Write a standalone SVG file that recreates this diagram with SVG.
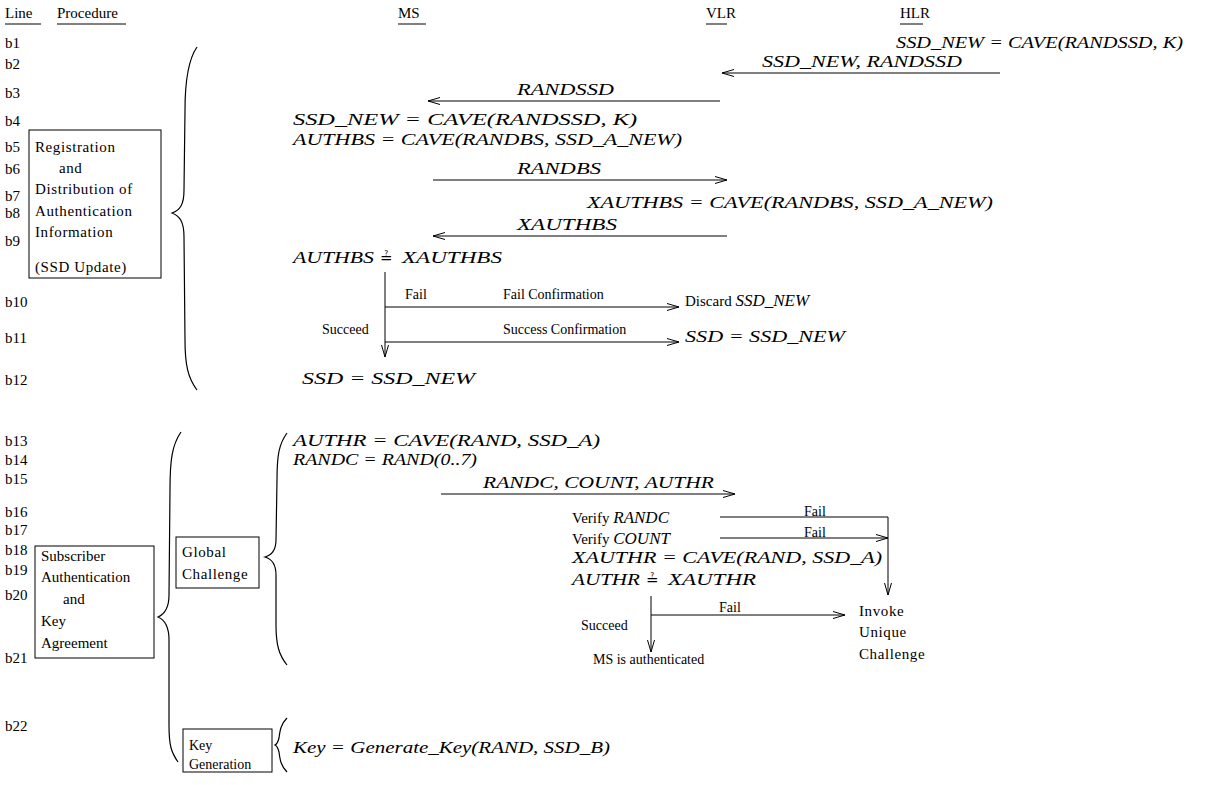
<svg xmlns="http://www.w3.org/2000/svg" width="1220" height="785" viewBox="0 0 1220 785">
<style>
text{font-family:"Liberation Serif","Times New Roman",serif;fill:#000}
.lb{font-size:15px}
.m{font-style:italic;font-size:17px}
.r{font-size:15px}
.t{font-size:14px}
.s{font-size:15px;letter-spacing:0.6px}
.qe{font-family:"DejaVu Sans",sans-serif;font-size:15px}
.ln{stroke:#000;stroke-width:1;fill:none}
.ar{stroke:#000;stroke-width:1;fill:none;marker-end:url(#ah)}
.br{stroke:#000;stroke-width:1.2;fill:none}
.bx{stroke:#000;stroke-width:1;fill:#fff}
</style>
<defs>
<marker id="ah" markerUnits="userSpaceOnUse" markerWidth="14" markerHeight="10" refX="12" refY="5" orient="auto">
<path d="M0,1.5 L12,5 L0,8.5" fill="none" stroke="#000" stroke-width="1"/>
</marker>
</defs>
<rect width="1220" height="785" fill="#fff"/>

<g id="header">
<text class="r" x="5" y="18">Line</text>
<line class="ln" x1="5" y1="24" x2="41" y2="24"/>
<text class="r" x="57" y="18">Procedure</text>
<line class="ln" x1="57" y1="24" x2="126" y2="24"/>
<text class="r" x="398" y="18">MS</text>
<line class="ln" x1="398" y1="24" x2="426" y2="24"/>
<text class="r" x="706" y="18">VLR</text>
<line class="ln" x1="706" y1="24" x2="727" y2="24"/>
<text class="r" x="900" y="18">HLR</text>
<line class="ln" x1="900" y1="24" x2="923" y2="24"/>
</g>

<g id="line-labels" class="lb">
<text class="lb" x="5" y="48">b1</text>
<text class="lb" x="5" y="69">b2</text>
<text class="lb" x="5" y="98">b3</text>
<text class="lb" x="5" y="126">b4</text>
<text class="lb" x="5" y="152">b5</text>
<text class="lb" x="5" y="174">b6</text>
<text class="lb" x="5" y="201">b7</text>
<text class="lb" x="5" y="218">b8</text>
<text class="lb" x="5" y="246">b9</text>
<text class="lb" x="5" y="307">b10</text>
<text class="lb" x="5" y="343">b11</text>
<text class="lb" x="5" y="385">b12</text>
<text class="lb" x="5" y="446">b13</text>
<text class="lb" x="5" y="465">b14</text>
<text class="lb" x="5" y="484">b15</text>
<text class="lb" x="5" y="517">b16</text>
<text class="lb" x="5" y="535">b17</text>
<text class="lb" x="5" y="555">b18</text>
<text class="lb" x="5" y="575">b19</text>
<text class="lb" x="5" y="600">b20</text>
<text class="lb" x="5" y="663">b21</text>
<text class="lb" x="5" y="731">b22</text>
</g>

<g id="box-registration">
<rect class="bx" x="29" y="130" width="132" height="148"/>
<text class="s" x="35" y="152">Registration</text>
<text class="s" x="59" y="173">and</text>
<text class="s" x="35" y="194">Distribution of</text>
<text class="s" x="35" y="216">Authentication</text>
<text class="s" x="35" y="237">Information</text>
<text class="s" x="35" y="272">(SSD Update)</text>
</g>

<g id="box-subscriber">
<rect class="bx" x="35" y="546" width="119" height="112"/>
<text class="r" x="41" y="561">Subscriber</text>
<text class="r" x="41" y="582">Authentication</text>
<text class="r" x="63" y="604">and</text>
<text class="r" x="41" y="626">Key</text>
<text class="r" x="41" y="648">Agreement</text>
</g>

<g id="box-global">
<rect class="bx" x="176" y="537" width="83" height="51"/>
<text class="s" x="182" y="557">Global</text>
<text class="s" x="182" y="579">Challenge</text>
</g>

<g id="box-keygen">
<rect class="bx" x="183" y="729" width="89" height="43"/>
<text class="t" x="189" y="750">Key</text>
<text class="t" x="189" y="769">Generation</text>
</g>

<g id="braces">
<path class="br" d="M197,47 C188,60 185,80 185,110 L184,190 C184,205 180,210 172,213 C180,216 184,222 184,237 L185,340 C185,365 188,378 197,390"/>
<path class="br" d="M181,432 C172,445 170,460 170,490 L169,595 C169,608 165,614 158,617 C165,620 169,626 169,640 L169,725 C169,745 171,752 178,762"/>
<path class="br" d="M287,433 C279,444 277,455 277,480 L276,540 C276,550 272,555 265,557 C272,559 276,565 276,575 L276,625 C276,645 279,655 287,665"/>
<path class="br" d="M287,718 C281,724 280,730 279,738 C278,742 277,744 275,745 C277,746 278,748 279,752 C280,760 281,766 287,772"/>
</g>

<g id="connectors">
<line class="ar" x1="1000" y1="73" x2="722" y2="73"/>
<line class="ar" x1="720" y1="101" x2="428" y2="101"/>
<line class="ar" x1="433" y1="180" x2="727" y2="180"/>
<line class="ar" x1="727" y1="236" x2="433" y2="236"/>
<line class="ar" x1="385" y1="272" x2="385" y2="357"/>
<line class="ar" x1="385" y1="307" x2="679" y2="307"/>
<line class="ar" x1="385" y1="342" x2="679" y2="342"/>
<line class="ar" x1="441" y1="494" x2="735" y2="494"/>
<polyline class="ar" points="720,517 888,517 888,595"/>
<line class="ar" x1="720" y1="538" x2="888" y2="538"/>
<line class="ar" x1="651" y1="596" x2="651" y2="652"/>
<line class="ar" x1="651" y1="615" x2="845" y2="615"/>
</g>

<g id="texts-top">
<text class="m" x="896" y="48" textLength="287" lengthAdjust="spacingAndGlyphs">SSD_NEW = CAVE(RANDSSD, K)</text>
<text class="m" x="762" y="67" textLength="200" lengthAdjust="spacingAndGlyphs">SSD_NEW, RANDSSD</text>
<text class="m" x="517" y="95" textLength="97" lengthAdjust="spacingAndGlyphs">RANDSSD</text>
<text class="m" x="293" y="125" textLength="344" lengthAdjust="spacingAndGlyphs">SSD_NEW = CAVE(RANDSSD, K)</text>
<text class="m" x="293" y="145" textLength="389" lengthAdjust="spacingAndGlyphs">AUTHBS = CAVE(RANDBS, SSD_A_NEW)</text>
<text class="m" x="517" y="174" textLength="84" lengthAdjust="spacingAndGlyphs">RANDBS</text>
<text class="m" x="587" y="208" textLength="406" lengthAdjust="spacingAndGlyphs">XAUTHBS = CAVE(RANDBS, SSD_A_NEW)</text>
<text class="m" x="517" y="230" textLength="100" lengthAdjust="spacingAndGlyphs">XAUTHBS</text>
<text class="m" x="293" y="263" textLength="81" lengthAdjust="spacingAndGlyphs">AUTHBS</text>
<text class="qe" x="380" y="263">≟</text>
<text class="m" x="402" y="263" textLength="100" lengthAdjust="spacingAndGlyphs">XAUTHBS</text>
<text class="t" x="405" y="299">Fail</text>
<text class="t" x="503" y="299">Fail Confirmation</text>
<text class="r" x="685" y="306">Discard <tspan class="m">SSD_NEW</tspan></text>
<text class="t" x="322" y="334">Succeed</text>
<text class="t" x="503" y="334">Success Confirmation</text>
<text class="m" x="685" y="342" textLength="160" lengthAdjust="spacingAndGlyphs">SSD = SSD_NEW</text>
<text class="m" x="302" y="384" textLength="173" lengthAdjust="spacingAndGlyphs">SSD = SSD_NEW</text>
</g>

<g id="texts-bottom">
<text class="m" x="293" y="446" textLength="307" lengthAdjust="spacingAndGlyphs">AUTHR = CAVE(RAND, SSD_A)</text>
<text class="m" x="293" y="465" textLength="184" lengthAdjust="spacingAndGlyphs">RANDC = RAND(0..7)</text>
<text class="m" x="483" y="488" textLength="231" lengthAdjust="spacingAndGlyphs">RANDC, COUNT, AUTHR</text>
<text class="r" x="572" y="523">Verify <tspan class="m">RANDC</tspan></text>
<text class="r" x="572" y="544">Verify <tspan class="m">COUNT</tspan></text>
<text class="t" x="804" y="516">Fail</text>
<text class="t" x="804" y="537">Fail</text>
<text class="m" x="572" y="563" textLength="310" lengthAdjust="spacingAndGlyphs">XAUTHR = CAVE(RAND, SSD_A)</text>
<text class="m" x="572" y="585" textLength="68" lengthAdjust="spacingAndGlyphs">AUTHR</text>
<text class="qe" x="646" y="585">≟</text>
<text class="m" x="668" y="585" textLength="88" lengthAdjust="spacingAndGlyphs">XAUTHR</text>
<text class="t" x="719" y="612">Fail</text>
<text class="t" x="581" y="630">Succeed</text>
<text class="t" x="593" y="664">MS is authenticated</text>
<text class="s" x="859" y="616">Invoke</text>
<text class="s" x="859" y="637">Unique</text>
<text class="s" x="859" y="659">Challenge</text>
<text class="m" x="293" y="753" textLength="317" lengthAdjust="spacingAndGlyphs">Key = Generate_Key(RAND, SSD_B)</text>
</g>
</svg>
